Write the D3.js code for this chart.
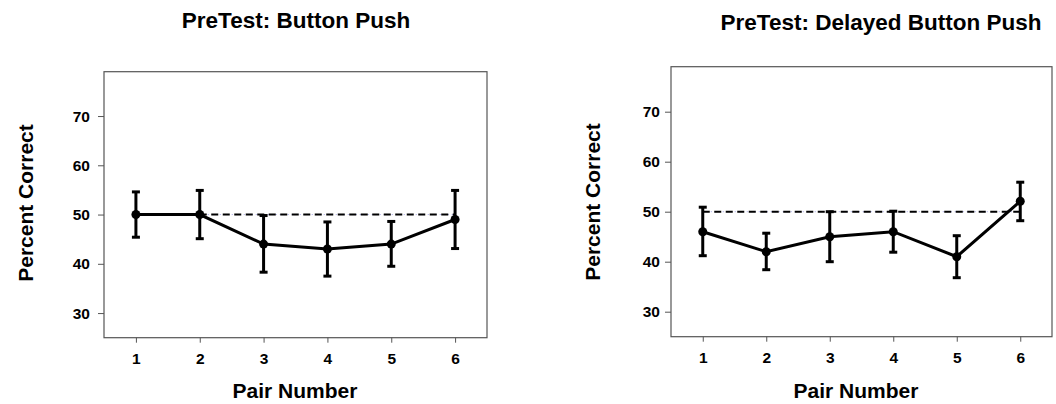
<!DOCTYPE html>
<html>
<head>
<meta charset="utf-8">
<script src="https://cdn.jsdelivr.net/npm/d3@7"></script>
<style>
  body { margin: 0; background: #fff; }
  svg text { font-family: "Liberation Sans", Arial, sans-serif; font-weight: bold; fill: #000; }
</style>
</head>
<body>
<script>
const pairs = [1, 2, 3, 4, 5, 6];
const yTicks = [30, 40, 50, 60, 70];

const buttonMean = [50, 50, 44, 43, 44, 49];
const buttonLow = [45.4, 45.1, 38.3, 37.5, 39.5, 43.1];
const buttonHigh = [54.6, 54.9, 49.8, 48.5, 48.6, 54.9];

const delayedMean = [46, 42, 45, 46, 41, 52.1];
const delayedLow = [41.2, 38.4, 40.0, 41.9, 36.8, 48.2];
const delayedHigh = [50.9, 45.7, 50.0, 50.1, 45.2, 55.9];

const chance = 50;
const buttonChanceSpan = [2, 6];
const delayedChanceSpan = [1, 6];

const titles = ["PreTest: Button Push", "PreTest: Delayed Button Push"];

const width = 1056, height = 404;

const svg = d3.select('body')
    .append('svg')
    .attr('width', width)
    .attr('height', height);

const panels = [
  {title: titles[0], mean: buttonMean, low: buttonLow, high: buttonHigh, span: buttonChanceSpan,
   x0: 104, x1: 487, y0: 71.7, y1: 337.7, titleX: 296, titleY: 28, labX: 33, labY: 203, xLabX: 295, yPad: 8},
  {title: titles[1], mean: delayedMean, low: delayedLow, high: delayedHigh, span: delayedChanceSpan,
   x0: 671, x1: 1052, y0: 66.7, y1: 336.7, titleX: 881, titleY: 29.5, labX: 600, labY: 202, xLabX: 856, yPad: 5}
];

panels.forEach(p => {
  const x = d3.scaleLinear().domain([0.5, 6.5]).range([p.x0, p.x1]);
  const y = d3.scaleLinear().domain([25, 79]).range([p.y1, p.y0]);
  const g = svg.append('g');

  // frame
  g.append('rect')
    .attr('x', p.x0).attr('y', p.y0)
    .attr('width', p.x1 - p.x0).attr('height', p.y1 - p.y0)
    .attr('fill', 'none')
    .attr('stroke', '#555')
    .attr('stroke-width', 1.2);

  const xAxis = g.append('g')
    .attr('transform', `translate(0,${p.y1})`)
    .call(d3.axisBottom(x).tickValues(pairs).tickSize(5).tickPadding(10.5).tickFormat(d3.format('d')));
  xAxis.select('.domain').remove();
  xAxis.selectAll('line').attr('stroke', '#555');
  xAxis.selectAll('text').style('font-size', '15.5px');

  const yAxis = g.append('g')
    .attr('transform', `translate(${p.x0},0)`)
    .call(d3.axisLeft(y).tickValues(yTicks).tickSize(6).tickPadding(p.yPad));
  yAxis.select('.domain').remove();
  yAxis.selectAll('line').attr('stroke', '#555');
  yAxis.selectAll('text').style('font-size', '15.5px');

  // chance line
  g.append('line')
    .attr('x1', x(p.span[0])).attr('x2', x(p.span[1]))
    .attr('y1', y(chance)).attr('y2', y(chance))
    .attr('stroke', '#6a6ad8')
    .attr('stroke-width', 0.6)
    .attr('stroke-dasharray', '1 3');
  g.append('line')
    .attr('x1', x(p.span[0])).attr('x2', x(p.span[1]))
    .attr('y1', y(chance)).attr('y2', y(chance))
    .attr('stroke', '#000')
    .attr('stroke-width', 2)
    .attr('stroke-dasharray', '7 4.5');

  const rows = pairs.map((d, i) => ({pair: d, mean: p.mean[i], low: p.low[i], high: p.high[i]}));

  // error bars
  const eb = g.selectAll('.eb').data(rows).enter().append('g').attr('class', 'eb');
  eb.append('line')
    .attr('x1', d => x(d.pair)).attr('x2', d => x(d.pair))
    .attr('y1', d => y(d.low)).attr('y2', d => y(d.high))
    .attr('stroke', '#000').attr('stroke-width', 3);
  eb.append('line')
    .attr('x1', d => x(d.pair) - 4).attr('x2', d => x(d.pair) + 4)
    .attr('y1', d => y(d.high)).attr('y2', d => y(d.high))
    .attr('stroke', '#000').attr('stroke-width', 3);
  eb.append('line')
    .attr('x1', d => x(d.pair) - 4).attr('x2', d => x(d.pair) + 4)
    .attr('y1', d => y(d.low)).attr('y2', d => y(d.low))
    .attr('stroke', '#000').attr('stroke-width', 3);

  g.append('path')
    .datum(rows)
    .attr('fill', 'none')
    .attr('stroke', '#000')
    .attr('stroke-width', 3)
    .attr('d', d3.line().x(d => x(d.pair)).y(d => y(d.mean)));

  g.selectAll('.dot').data(rows).enter().append('circle')
    .attr('class', 'dot')
    .attr('cx', d => x(d.pair)).attr('cy', d => y(d.mean))
    .attr('r', 4.5)
    .attr('fill', '#000');

  svg.append('text')
    .attr('x', p.titleX).attr('y', p.titleY)
    .attr('text-anchor', 'middle')
    .style('font-size', '22.5px')
    .text(p.title);

  svg.append('text')
    .attr('x', p.xLabX).attr('y', 398)
    .attr('text-anchor', 'middle')
    .style('font-size', '21px')
    .text('Pair Number');

  svg.append('text')
    .attr('transform', `translate(${p.labX},${p.labY}) rotate(-90)`)
    .attr('text-anchor', 'middle')
    .style('font-size', '21px')
    .text('Percent Correct');
});
</script>
</body>
</html>
